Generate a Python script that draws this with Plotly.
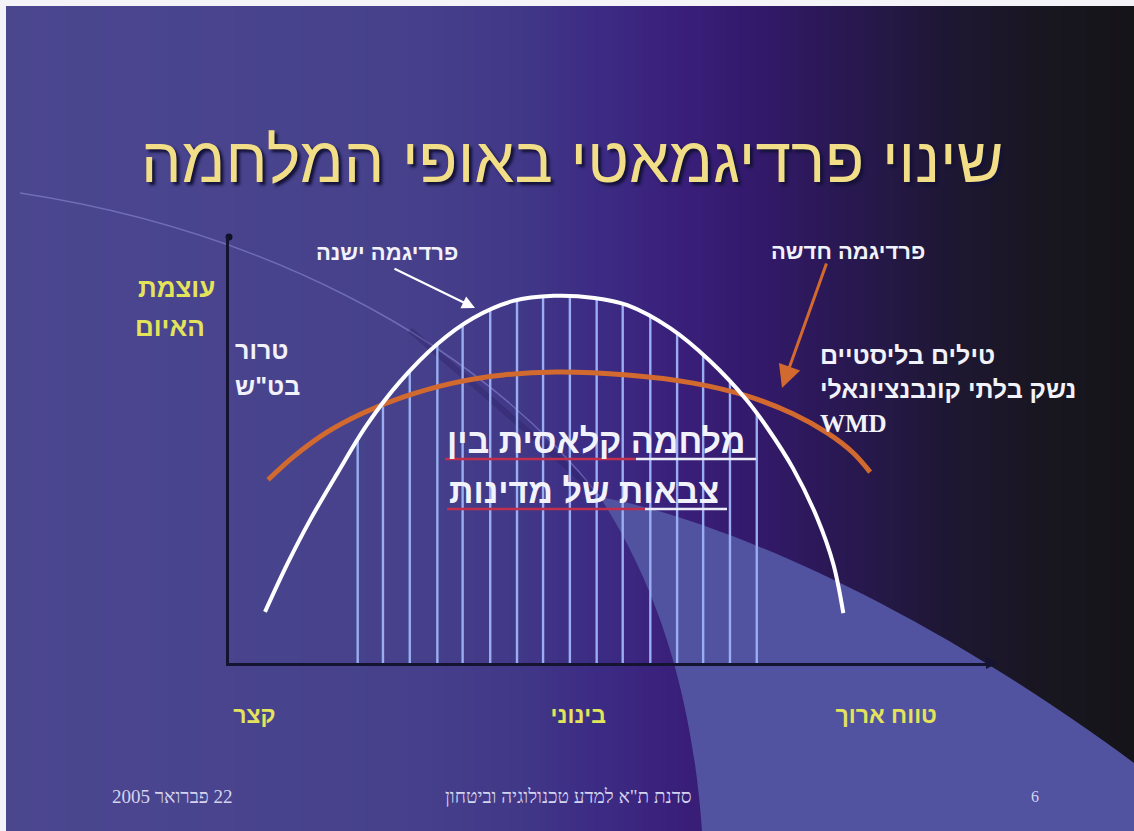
import plotly.graph_objects as go

W, H = 1134, 831

# ---------------- data ----------------
old_paradigm_x = [4.7, 7.6, 10.6, 14.1, 18.0, 22.3, 27.2, 31.9, 37.1, 42.4, 47.7, 52.0, 57.6, 62.8, 67.6, 70.2, 73.6, 76.8, 78.9, 80.2]
old_paradigm_y = [12.0, 23.2, 33.6, 44.4, 55.9, 66.0, 74.9, 81.0, 85.0, 86.2, 85.7, 84.0, 78.6, 70.9, 61.7, 55.4, 45.8, 34.0, 23.2, 11.7]

new_paradigm_x = [5.1, 8.4, 12.8, 17.5, 22.7, 29.2, 35.8, 42.7, 52.0, 60.6, 67.6, 73.6, 78.1, 81.5, 83.7]
new_paradigm_y = [43.0, 48.4, 54.2, 58.7, 62.4, 65.7, 67.6, 68.3, 67.6, 65.7, 62.7, 58.5, 54.0, 49.3, 44.8]

classic_war_x = [16.8, 20.1, 23.6, 27.2, 30.5, 34.1, 37.6, 41.0, 44.5, 48.0, 51.4, 55.0, 58.5, 61.9, 65.4, 68.9]
classic_war_top = [52.3, 60.8, 68.3, 74.9, 79.3, 82.6, 85.1, 85.9, 86.0, 85.6, 84.3, 81.5, 77.5, 72.5, 65.7, 58.7]

range_labels = ["קצר", "בינוני", "טווח ארוך"]
range_positions = [3.3, 45.6, 85.8]

title_text = "שינוי פרדיגמאטי באופי המלחמה"
y_label_lines = ["עוצמת", "האיום"]
left_threats = ["טרור", 'בט"ש']
right_threats = ["טילים בליסטיים", "נשק בלתי קונבנציונאלי", "WMD"]
center_lines = ["מלחמה קלאסית בין", "צבאות של מדינות"]
old_label = "פרדיגמה ישנה"
new_label = "פרדיגמה חדשה"
footer_date = "\u202B22 פברואר 2005\u202C"
footer_center = 'סדנת ת"א למדע טכנולוגיה וביטחון'
footer_page = "6"

# ---------------- helpers ----------------
def px(x):
    return x / W

def py(y):
    return 1 - y / H

def hex2rgb(h):
    h = h.lstrip('#')
    return tuple(int(h[i:i + 2], 16) for i in (0, 2, 4))

HEB = "Liberation Sans, DejaVu Sans, Arial, sans-serif"
SERIF = "Liberation Serif, DejaVu Serif, serif"
YELLOW = "#e4e45a"
WHITE = "#f2f2fa"
ORANGE = "#d2692e"

fig = go.Figure()

# hatch lines (classic war)
hx, hy = [], []
for x, t in zip(classic_war_x, classic_war_top):
    hx += [x, x, None]
    hy += [0, t, None]
fig.add_trace(go.Scatter(x=hx, y=hy, mode="lines",
                         line=dict(color="#98aef0", width=2.4), hoverinfo="skip"))
# new paradigm (orange)
fig.add_trace(go.Scatter(x=new_paradigm_x, y=new_paradigm_y, mode="lines",
                         line=dict(color=ORANGE, width=5, shape="spline", smoothing=1.0),
                         hoverinfo="skip"))
# old paradigm (white)
fig.add_trace(go.Scatter(x=old_paradigm_x, y=old_paradigm_y, mode="lines",
                         line=dict(color="#ffffff", width=4, shape="spline", smoothing=1.0),
                         hoverinfo="skip"))
# y-axis top dot
fig.add_trace(go.Scatter(x=[0], y=[100], mode="markers",
                         marker=dict(color="#101028", size=7), hoverinfo="skip", cliponaxis=False))

# ---------------- background ----------------
shapes = []
stops = [(0, '#4b478f'), (400, '#47418c'), (520, '#413887'), (600, '#3c2b84'),
         (680, '#391f7a'), (760, '#33196a'), (850, '#281850'), (950, '#1e1733'),
         (1050, '#18161f'), (1134, '#151419')]

def grad(x):
    for (x0, c0), (x1, c1) in zip(stops[:-1], stops[1:]):
        if x0 <= x <= x1:
            t = (x - x0) / (x1 - x0)
            a, b = hex2rgb(c0), hex2rgb(c1)
            return 'rgb(%d,%d,%d)' % tuple(round(a[i] + (b[i] - a[i]) * t) for i in range(3))
    return stops[-1][1]

step = 6
for x0 in range(0, W, step):
    shapes.append(dict(type="rect", xref="paper", yref="paper", layer="below",
                       x0=px(x0), x1=px(min(x0 + step + 1, W)), y0=0, y1=1,
                       fillcolor=grad(x0 + step / 2), line=dict(width=0)))

def P(x, y):
    return "%.5f,%.5f" % (px(x), py(y))

# lighter wedge bottom-right
wedge = ("M" + P(600, 497) + " C" + P(640, 560) + " " + P(690, 660) + " " + P(702, 831) +
         " L" + P(1134, 831) + " L" + P(1134, 763) +
         " C" + P(900, 590) + " " + P(700, 515) + " " + P(600, 497) + " Z")
shapes.append(dict(type="path", path=wedge, xref="paper", yref="paper", layer="below",
                   fillcolor="#5153a0", line=dict(width=0)))
# faint arc line top-left
arc = ("M" + P(20, 193) + " C" + P(250, 228) + " " + P(470, 332) + " " + P(600, 497))
shapes.append(dict(type="path", path=arc, xref="paper", yref="paper", layer="below",
                   line=dict(color="rgba(150,150,225,0.5)", width=1.5)))
# shadow band along diagonal
shadow = ("M" + P(410, 330) + " C" + P(480, 390) + " " + P(540, 440) + " " + P(600, 497))
shapes.append(dict(type="path", path=shadow, xref="paper", yref="paper", layer="below",
                   line=dict(color="rgba(30,20,80,0.25)", width=6)))
# white slide border top / left
shapes.append(dict(type="rect", xref="paper", yref="paper", layer="below",
                   x0=0, x1=1, y0=py(6), y1=1, fillcolor="#f4f4f8", line=dict(width=0)))
shapes.append(dict(type="rect", xref="paper", yref="paper", layer="below",
                   x0=0, x1=px(6), y0=0, y1=1, fillcolor="#f4f4f8", line=dict(width=0)))

# underlines for center text
def uline(x0, x1, y, color):
    shapes.append(dict(type="line", xref="paper", yref="paper", layer="above",
                       x0=px(x0), x1=px(x1), y0=py(y), y1=py(y),
                       line=dict(color=color, width=2.5)))

uline(445, 636, 459, "#c0304c")
uline(636, 756, 459, "#ececf6")
uline(447, 645, 509, "#c0304c")
uline(645, 727, 509, "#ececf6")

# ---------------- annotations ----------------
ann = []

def text(t, x, y, size, color, xanchor="center", bold=True, family=HEB, yanchor="middle", shadow=None):
    f = dict(family=family, size=size, color=color, weight="bold" if bold else "normal")
    if shadow:
        f["shadow"] = shadow
    ann.append(dict(text=t, x=px(x), y=py(y), xref="paper", yref="paper",
                    xanchor=xanchor, yanchor=yanchor, showarrow=False, font=f))

text(title_text, 572, 160, 64, "#f2de86", bold=False, shadow="3px 3px 3px #141238")
text(y_label_lines[0], 217, 288, 26, YELLOW, xanchor="right")
text(y_label_lines[1], 207, 327, 26, YELLOW, xanchor="right")
text(left_threats[0], 233, 350, 25, WHITE, xanchor="left")
text(left_threats[1], 233, 386, 25, WHITE, xanchor="left")
for i, t in enumerate(right_threats):
    text(t, 818, 355 + 34 * i, 25 if i < 2 else 25, WHITE, xanchor="left",
         family=(HEB if i < 2 else SERIF))
text(center_lines[0], 445, 441, 34, WHITE, xanchor="left")
text(center_lines[1], 447, 491, 34, WHITE, xanchor="left")
text(old_label, 387, 253, 22, WHITE)
text(new_label, 848, 251, 22, WHITE)
text(footer_date, 172, 796, 19, "#d4d4f0", bold=False, family=SERIF)
text(footer_center, 568, 796, 19, "#d4d4f0", bold=False, family=SERIF)
text(footer_page, 1035, 796, 16, "#d4d4f0", bold=False, family=SERIF)

# arrows
ann.append(dict(x=px(475), y=py(308), xref="paper", yref="paper", ax=393 - 475, ay=268 - 308,
                axref="pixel", ayref="pixel", showarrow=True, arrowhead=2, arrowsize=1.3,
                arrowwidth=2, arrowcolor="#ffffff", text=""))
ann.append(dict(x=px(782), y=py(388), xref="paper", yref="paper", ax=827 - 782, ay=262 - 388,
                axref="pixel", ayref="pixel", showarrow=True, arrowhead=2, arrowsize=1.5,
                arrowwidth=3, arrowcolor=ORANGE, text=""))
# x-axis arrow tip
ann.append(dict(x=px(998), y=py(663), xref="paper", yref="paper", ax=-14, ay=0,
                axref="pixel", ayref="pixel", showarrow=True, arrowhead=2, arrowsize=0.8,
                arrowwidth=3, arrowcolor="#141430", text=""))

fig.update_layout(
    width=W, height=H, margin=dict(l=0, r=0, t=0, b=0),
    paper_bgcolor="#4b478f", plot_bgcolor="rgba(0,0,0,0)",
    showlegend=False, shapes=shapes, annotations=ann,
    xaxis=dict(domain=[px(229), px(995)], range=[0, 100], showgrid=False, zeroline=False,
               showline=True, linecolor="#141430", linewidth=3,
               tickmode="array", tickvals=range_positions, ticktext=range_labels,
               ticks="outside", ticklen=29, tickcolor="rgba(0,0,0,0)",
               tickfont=dict(family=HEB, size=23, color=YELLOW, weight="bold"), fixedrange=True),
    yaxis=dict(domain=[py(663), py(237)], range=[0, 100], showgrid=False, zeroline=False,
               showline=True, linecolor="#141430", linewidth=3, showticklabels=False,
               ticks="", fixedrange=True),
)

fig.write_html("out.html", config={"displayModeBar": False},
               post_script="document.body.style.margin='0';document.body.style.overflow='hidden';")
